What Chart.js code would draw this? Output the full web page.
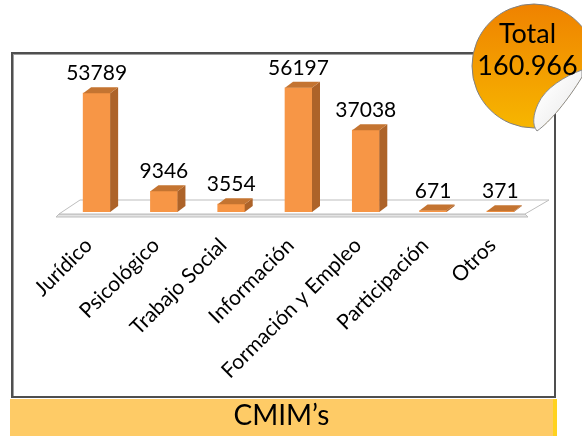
<!DOCTYPE html>
<html>
<head>
<meta charset="utf-8">
<script src="https://cdn.jsdelivr.net/npm/chart.js@4.4.1/dist/chart.umd.min.js"></script>
<style>
  body { margin: 0; width: 582px; height: 436px; overflow: hidden; background: #fff; position: relative; font-family: Lato, sans-serif; }
  #frame { position: absolute; left: 11px; top: 52px; width: 545px; height: 346px; box-sizing: border-box;
           border: 2px solid #4f4f4f; box-shadow: inset 1px 1px 0 #a0a0a0; z-index: 1; }
  #chart { position: absolute; left: 0; top: 0; z-index: 2; }
  #band { position: absolute; left: 10px; top: 399px; width: 543px; height: 37px; background: #fecb66;
          border-right: 4px solid #ffd21f; text-align: center; line-height: 31px; font-size: 28px; color: #000; z-index: 3; }
  #sticker { position: absolute; left: 0; top: 0; z-index: 4; }
</style>
</head>
<body>
<div id="frame"></div>
<canvas id="chart" width="582" height="436"></canvas>
<div id="band">CMIM’s</div>
<svg id="sticker" width="582" height="140">
  <defs>
    <linearGradient id="stickerFill" x1="0" y1="0" x2="0" y2="1">
      <stop offset="0" stop-color="#ef8200"/>
      <stop offset="1" stop-color="#f7b600"/>
    </linearGradient>
    <linearGradient id="flapFill" x1="0.2" y1="0.2" x2="1" y2="1">
      <stop offset="0" stop-color="#ffffff"/>
      <stop offset="0.55" stop-color="#f1f1f1"/>
      <stop offset="1" stop-color="#9a9a9a"/>
    </linearGradient>
    <clipPath id="peel">
      <path d="M440 0 L600 0 L600 77 L582 77 C568 100 550 122 537 131 L537 140 L440 140 Z"/>
    </clipPath>
  </defs>
  <circle cx="534" cy="66" r="62" fill="url(#stickerFill)" stroke="#808080" stroke-width="1" clip-path="url(#peel)"/>
  <path d="M582 70 C565 76 545 88 538 104 C533 115 532 125 537 131 C550 122 568 100 582 77 Z"
        fill="url(#flapFill)" stroke="#8c8c8c" stroke-width="1"/>
  <text id="totalTitle" x="527.5" y="43" text-anchor="middle" font-family="Lato" font-size="27" fill="#000"></text>
  <text id="totalValue" x="527.5" y="75" text-anchor="middle" font-family="Lato" font-size="27" fill="#000"></text>
</svg>
<script>
// chart data
const categories = ['Jurídico', 'Psicológico', 'Trabajo Social', 'Información', 'Formación y Empleo', 'Participación', 'Otros'];
const values = [53789, 9346, 3554, 56197, 37038, 671, 371];
const totalText = ['Total', '160.966'];

document.getElementById('totalTitle').textContent = totalText[0];
document.getElementById('totalValue').textContent = totalText[1];

const depthX = 8, depthY = -6;

// floor under the bars plus side/top faces and value labels
const bars3d = {
    id: 'bars3d',
    beforeDatasetsDraw(chart) {
        const ctx = chart.ctx;
        const area = chart.chartArea;
        const y0 = chart.scales.y.getPixelForValue(0);
        ctx.save();
        // slab front edge
        ctx.fillStyle = '#e4e4e4';
        ctx.strokeStyle = '#bdbdbd';
        ctx.lineWidth = 1;
        ctx.beginPath();
        ctx.moveTo(area.left - 4, y0 + 2);
        ctx.lineTo(area.right - 9, y0 + 2);
        ctx.lineTo(area.right - 6, y0 + 5);
        ctx.lineTo(area.left - 7, y0 + 5);
        ctx.closePath();
        ctx.fill();
        ctx.stroke();
        // top surface
        ctx.fillStyle = '#ffffff';
        ctx.beginPath();
        ctx.moveTo(area.left - 4, y0 + 2);
        ctx.lineTo(area.left + 17, y0 - 12);
        ctx.lineTo(area.right + 15, y0 - 12);
        ctx.lineTo(area.right - 9, y0 + 2);
        ctx.closePath();
        ctx.fill();
        ctx.stroke();
        ctx.restore();
    },
    afterDatasetsDraw(chart) {
        const ctx = chart.ctx;
        const meta = chart.getDatasetMeta(0);
        ctx.save();
        meta.data.forEach((bar, i) => {
            const p = bar.getProps(['x', 'y', 'base', 'width'], true);
            const l = p.x - p.width / 2, r = p.x + p.width / 2;
            // side face
            ctx.fillStyle = '#ad6329';
            ctx.beginPath();
            ctx.moveTo(r, p.base);
            ctx.lineTo(r, p.y);
            ctx.lineTo(r + depthX, p.y + depthY);
            ctx.lineTo(r + depthX, p.base + depthY);
            ctx.closePath();
            ctx.fill();
            // top face
            ctx.fillStyle = '#c47431';
            ctx.beginPath();
            ctx.moveTo(l, p.y);
            ctx.lineTo(r, p.y);
            ctx.lineTo(r + depthX, p.y + depthY);
            ctx.lineTo(l + depthX, p.y + depthY);
            ctx.closePath();
            ctx.fill();
            // value label
            ctx.fillStyle = '#000';
            ctx.font = '21px Lato';
            ctx.textAlign = 'center';
            ctx.textBaseline = 'alphabetic';
            ctx.fillText(String(values[i]), p.x, p.y - 13);
        });
        ctx.restore();
    }
};

new Chart(document.getElementById('chart'), {
    type: 'bar',
    data: {
        labels: categories,
        datasets: [{
            data: values,
            backgroundColor: '#f79646',
            borderWidth: 0,
            barThickness: 27
        }]
    },
    options: {
        responsive: false,
        animation: false,
        layout: { padding: { left: 63, right: 48, top: 79.4, bottom: 44 } },
        plugins: { legend: { display: false }, tooltip: { enabled: false } },
        scales: {
            x: {
                grid: { display: false, drawTicks: false },
                border: { display: false },
                ticks: {
                    color: '#000',
                    font: { family: 'Lato', size: 21 },
                    minRotation: 45,
                    maxRotation: 45,
                    autoSkip: false,
                    padding: 21,
                    labelOffset: -8
                },
                afterFit: (scale) => { scale.height = 180; }
            },
            y: { display: false, min: 0, max: 60000 }
        }
    },
    plugins: [bars3d]
});
</script>
</body>
</html>
